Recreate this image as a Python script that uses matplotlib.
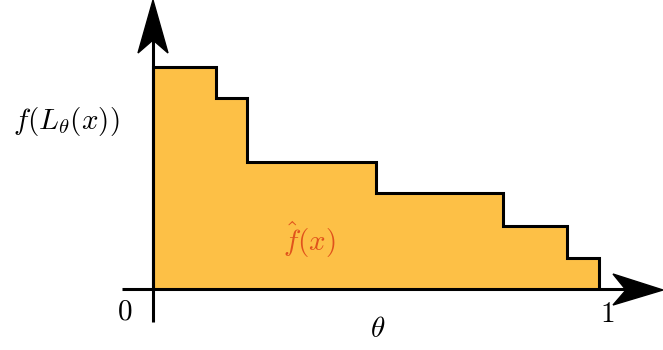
import matplotlib.pyplot as plt
from matplotlib.patches import Polygon
import numpy as np

# step function f(L_theta(x)) over theta in [0, 1]
edges = [0.0, 0.141, 0.211, 0.5, 0.785, 0.928, 1.0]
heights = [1.0, 0.86, 0.572, 0.432, 0.284, 0.14]

plt.rcParams.update({"mathtext.fontset": "cm", "font.family": "serif"})

W, H = 663, 350
ox, oy = 153, 289  # pixel position of the origin
sx, sy = 446, 222  # pixels per unit


def px(x, y):
    """pixel (top-left origin) -> data coordinates"""
    return ((x - ox) / sx, (oy - y) / sy)


fig = plt.figure(figsize=(W / 100, H / 100), dpi=100)
ax = fig.add_axes([0, 0, 1, 1])
ax.set_xlim(px(0, 0)[0], px(W, 0)[0])
ax.set_ylim(px(0, H)[1], px(0, 0)[1])
ax.axis("off")

ax.stairs(heights, edges, baseline=0, fill=True, color="#FDC046", zorder=1)
ax.stairs(heights, edges, baseline=0, fill=False, color="black", linewidth=2.2,
          zorder=2)

# axes
x0, y0 = px(122, 290)
x1, _ = px(630, 290)
ax.plot([x0, x1], [0, 0], color="black", linewidth=2.2, zorder=3,
        solid_capstyle="butt")
_, yb = px(153, 322)
_, yt = px(153, 40)
ax.plot([0, 0], [yb, yt], color="black", linewidth=2.2, zorder=3,
        solid_capstyle="butt")

# stealth arrow heads
ax.add_patch(Polygon([px(153, 0), px(168, 53), px(153, 40), px(138, 53)],
                     closed=True, color="black", zorder=4))
ax.add_patch(Polygon([px(663, 290), px(613, 305), px(626, 290), px(613, 274)],
                     closed=True, color="black", zorder=4))

fs = 21
ax.text(*px(125, 311), r"$0$", fontsize=fs, ha="center", va="center")
ax.text(*px(607, 314), r"$1$", fontsize=fs, ha="center", va="center")
ax.text(*px(378, 329), r"$\theta$", fontsize=fs, ha="center", va="center")
ax.text(*px(66, 121), r"$f(L_\theta(x))$", fontsize=fs, ha="center",
        va="center")
ax.text(*px(309, 240), r"$\hat{f}(x)$", fontsize=fs, ha="center", va="center",
        color="#E0521C")

fig.savefig("out.png", dpi=100, facecolor="white")
